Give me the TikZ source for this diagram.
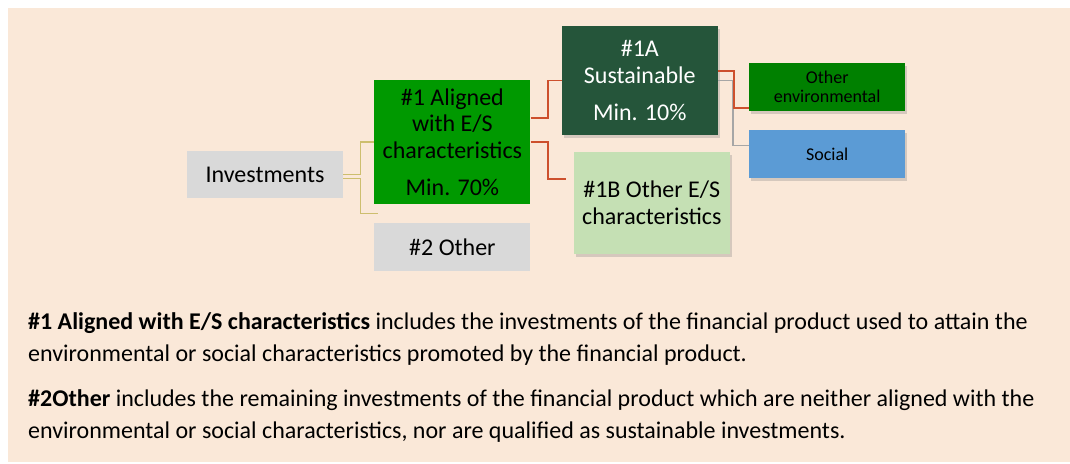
\documentclass[tikz,border=0pt]{standalone}
\usepackage{fontspec}
\setmainfont{Carlito}
\usetikzlibrary{positioning,shadows}

\definecolor{bgbeige}{RGB}{250,232,216}
\definecolor{tilegrey}{RGB}{217,217,217}
\definecolor{aligngreen}{RGB}{0,153,0}
\definecolor{sustgreen}{RGB}{37,85,58}
\definecolor{lightgreen}{RGB}{197,224,180}
\definecolor{envgreen}{RGB}{0,128,0}
\definecolor{socialblue}{RGB}{91,155,213}
\definecolor{linkred}{RGB}{205,80,45}
\definecolor{linkolive}{RGB}{205,190,110}
\definecolor{linkgrey}{RGB}{166,166,166}

\begin{document}
\begin{tikzpicture}[x=1pt, y=1pt,
tile/.style={rectangle, minimum width=156pt, inner sep=0pt, align=center, font=\fontsize{24}{26.7}\selectfont},
tile_small/.style={tile, font=\fontsize{18}{19.5}\selectfont},
tile_shadow/.style={drop shadow={shadow xshift=2pt, shadow yshift=-3pt, opacity=0.3}},
link_olive/.style={draw=linkolive, line width=1.3pt},
link_red/.style={draw=linkred, line width=1.8pt},
link_grey/.style={draw=linkgrey, line width=1.3pt},
desc/.style={align=left, inner sep=0pt, font=\fontsize{24}{31.5}\selectfont},
]

% page
\useasboundingbox (0,0) rectangle (1070,-463);
\fill[bgbeige] (8,-8) rectangle (1070,-462);

% \node[type](name_of_node)[placement]{text_in_node}
\node[tile, fill=tilegrey, minimum height=47pt](investments) at (265,-174.5){Investments};
\node[tile, fill=aligngreen, minimum height=124pt](aligned)[right=31pt of investments, yshift=32.5pt]{\#1 Aligned\\with E/S\\characteristics\\[10pt]Min. 70\%};
\node[tile, fill=tilegrey, minimum height=48pt](other)[below=19pt of aligned]{\#2 Other};

\node[tile, tile_shadow, fill=sustgreen, text=white, minimum height=109pt](sustainable)[right=31pt of aligned, yshift=61.5pt]{\#1A\\Sustainable\\[10pt]Min. 10\%};
\node[tile, tile_shadow, fill=lightgreen, minimum height=102pt](other_es)[right=43pt of aligned, yshift=-61pt]{\#1B Other E/S\\characteristics};

\node[tile_small, tile_shadow, fill=envgreen, minimum height=48pt](other_env)[right=31pt of sustainable, yshift=-6.5pt]{Other\\environmental};
\node[tile_small, tile_shadow, fill=socialblue, minimum height=48pt](social)[below=19pt of other_env]{Social};

% free ends of the links
\coordinate (other_link) at ([xshift=4pt, yshift=10pt]other.north west);
\coordinate (es_link) at ([xshift=-8pt, yshift=24pt]other_es.west);

% \draw[style] (name_of_node.direction) -- ++(step) |- (name_of_node.direction)
\draw[link_olive] (investments.east) -- ++(17,0) |- (aligned.west);
\draw[link_olive] ([yshift=-4pt]investments.east) -- ++(17,0) |- (other_link);

\draw[link_red] ([yshift=24pt]aligned.east) -- ++(17,0) |- (sustainable.west);
\draw[link_red] (aligned.east) -- ++(17,0) |- (es_link);

\draw[link_grey] (sustainable.east) -- ++(15,0) |- ([yshift=9pt]social.west);
\draw[link_red] ([yshift=9.5pt]sustainable.east) -- ++(16,0) |- ([yshift=-21pt]other_env.west);

% notes (base = last line)
\node[desc, anchor=base west](note_one) at (28,-361){\textbf{\#1 Aligned with E/S characteristics} includes the investments of the financial product used to attain the\\environmental or social characteristics promoted by the financial product.};
\node[desc, anchor=base west](note_two) at (28,-438){\textbf{\#2Other} includes the remaining investments of the financial product which are neither aligned with the\\environmental or social characteristics, nor are qualified as sustainable investments.};

\end{tikzpicture}
\end{document}
